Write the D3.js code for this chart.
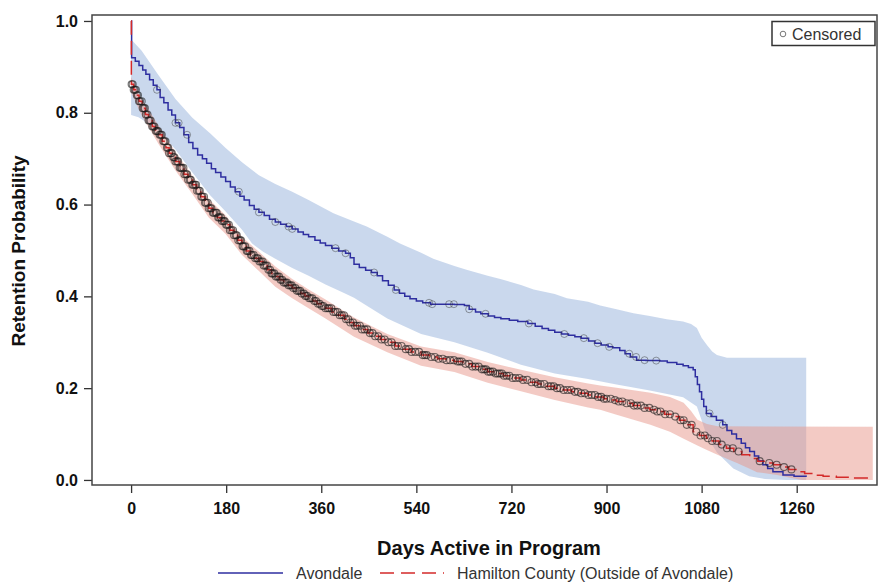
<!DOCTYPE html>
<html>

<head>
    <meta charset="utf-8">
    <title>Retention Probability - Kaplan-Meier</title>
    <style>
        body { margin: 0; background: #ffffff; }
        text { font-family: "Liberation Sans", Arial, sans-serif; }
    </style>
</head>

<body>
    <svg id="meuGrafico" width="881" height="582"></svg>

    <script src="https://d3js.org/d3.v7.min.js"></script>
    <script>
        // ---- dados ----
        var xTicks = [0, 180, 360, 540, 720, 900, 1080, 1260];
        var yTicks = [0.0, 0.2, 0.4, 0.6, 0.8, 1.0];
        var seriesNames = ["Avondale", "Hamilton County (Outside of Avondale)"];

        // Avondale: curva de sobrevivencia (dia, probabilidade)
        var avondaleCurve = [
            [0, 1.000], [1, 0.920], [8, 0.912], [15, 0.903], [22, 0.893], [28, 0.884], [35, 0.872], [42, 0.860],
            [49, 0.850], [55, 0.833], [62, 0.822], [70, 0.806], [77, 0.795], [84, 0.778], [92, 0.768], [100, 0.752],
            [109, 0.735], [117, 0.722], [126, 0.708], [135, 0.700], [143, 0.690], [152, 0.678], [160, 0.670],
            [170, 0.660], [179, 0.650], [188, 0.638], [197, 0.628], [206, 0.618], [214, 0.610], [224, 0.598],
            [233, 0.590], [242, 0.583], [252, 0.576], [262, 0.568], [273, 0.562], [283, 0.557], [294, 0.552],
            [305, 0.547], [316, 0.540], [326, 0.535], [336, 0.530], [348, 0.522], [358, 0.516], [368, 0.511],
            [380, 0.505], [393, 0.499], [406, 0.494], [415, 0.484], [422, 0.470], [432, 0.463], [444, 0.457],
            [455, 0.452], [466, 0.445], [476, 0.434], [487, 0.424], [498, 0.414], [508, 0.407], [518, 0.400],
            [528, 0.395], [540, 0.390], [552, 0.386], [567, 0.383], [600, 0.383], [612, 0.382], [631, 0.380],
            [640, 0.372], [652, 0.366], [662, 0.362], [676, 0.357], [688, 0.354], [700, 0.351], [716, 0.348],
            [732, 0.345], [751, 0.341], [765, 0.335], [778, 0.330], [790, 0.326], [802, 0.322], [815, 0.318],
            [828, 0.315], [840, 0.312], [852, 0.309], [866, 0.303], [878, 0.298], [890, 0.294], [903, 0.290],
            [912, 0.288], [925, 0.282], [935, 0.275], [945, 0.268], [957, 0.261], [975, 0.260], [1001, 0.259],
            [1015, 0.256], [1033, 0.252], [1045, 0.249], [1055, 0.245], [1064, 0.240], [1068, 0.225],
            [1072, 0.208], [1076, 0.192], [1080, 0.176], [1084, 0.160], [1089, 0.145], [1098, 0.138],
            [1108, 0.130], [1120, 0.120], [1128, 0.108], [1137, 0.100], [1146, 0.090], [1155, 0.080],
            [1163, 0.070], [1171, 0.062], [1180, 0.052], [1188, 0.042], [1196, 0.033], [1205, 0.025],
            [1215, 0.018], [1234, 0.011], [1255, 0.008], [1278, 0.007]
        ];
        var avondaleUpper = [
            [0, 0.960], [20, 0.935], [52, 0.882], [84, 0.830], [116, 0.789], [150, 0.755], [179, 0.723],
            [210, 0.692], [242, 0.664], [273, 0.645], [305, 0.628], [336, 0.610], [383, 0.581], [422, 0.563],
            [446, 0.552], [485, 0.530], [509, 0.515], [549, 0.495], [572, 0.482], [612, 0.466], [635, 0.458],
            [675, 0.445], [699, 0.438], [738, 0.425], [762, 0.415], [802, 0.405], [825, 0.396], [865, 0.388],
            [888, 0.380], [919, 0.372], [951, 0.363], [982, 0.357], [1014, 0.350], [1045, 0.345], [1060, 0.340],
            [1071, 0.331], [1080, 0.310], [1090, 0.294], [1100, 0.280], [1109, 0.272], [1128, 0.266], [1278, 0.266]
        ];
        var avondaleLower = [
            [0, 0.795], [14, 0.790], [28, 0.780], [52, 0.760], [84, 0.720], [116, 0.670], [150, 0.620],
            [179, 0.585], [210, 0.545], [229, 0.515], [250, 0.497], [273, 0.482], [305, 0.462], [336, 0.445],
            [368, 0.426], [400, 0.409], [422, 0.397], [450, 0.377], [485, 0.352], [549, 0.318], [612, 0.300],
            [675, 0.277], [738, 0.251], [802, 0.232], [865, 0.220], [919, 0.208], [982, 0.195], [1045, 0.180],
            [1071, 0.160], [1080, 0.130], [1090, 0.095], [1109, 0.060], [1140, 0.025], [1170, 0.008],
            [1200, 0.002], [1240, 0.000], [1278, 0.000]
        ];
        var avondaleCensored = [49, 84, 90, 106, 204, 242, 273, 298, 305, 387, 406, 460, 501, 564, 570, 602,
            611, 640, 671, 753, 820, 857, 883, 905, 943, 956, 972, 994, 1095, 1120];

        // Hamilton County (fora de Avondale)
        var hamiltonCurve = [
            [0, 1.000], [0.5, 0.862], [5, 0.850], [10, 0.838], [15, 0.825], [21, 0.810], [27, 0.796], [33, 0.783],
            [40, 0.770], [46, 0.760], [52, 0.752], [59, 0.738], [66, 0.724], [72, 0.712], [78, 0.703], [84, 0.694],
            [92, 0.680], [100, 0.666], [108, 0.654], [116, 0.643], [124, 0.630], [132, 0.617], [140, 0.604],
            [147, 0.592], [155, 0.582], [163, 0.572], [171, 0.564], [179, 0.556], [187, 0.544], [195, 0.533],
            [202, 0.522], [210, 0.509], [218, 0.499], [226, 0.490], [234, 0.483], [242, 0.476], [250, 0.467],
            [258, 0.458], [266, 0.450], [273, 0.443], [281, 0.436], [289, 0.430], [297, 0.424], [305, 0.418],
            [313, 0.412], [321, 0.406], [329, 0.401], [336, 0.396], [344, 0.390], [352, 0.384], [360, 0.379],
            [368, 0.374], [380, 0.366], [392, 0.359], [404, 0.350], [414, 0.343], [422, 0.336], [435, 0.328],
            [448, 0.320], [460, 0.313], [472, 0.306], [485, 0.300], [500, 0.292], [515, 0.285], [530, 0.279],
            [549, 0.272], [565, 0.268], [580, 0.264], [596, 0.261], [612, 0.258], [628, 0.253], [645, 0.247],
            [660, 0.241], [675, 0.236], [690, 0.232], [705, 0.227], [722, 0.222], [738, 0.218], [754, 0.213],
            [770, 0.209], [786, 0.204], [802, 0.200], [818, 0.196], [834, 0.192], [850, 0.189], [865, 0.185],
            [880, 0.181], [895, 0.177], [910, 0.174], [919, 0.171], [935, 0.167], [950, 0.162], [966, 0.157],
            [982, 0.153], [996, 0.149], [1010, 0.143], [1026, 0.138], [1038, 0.130], [1050, 0.120], [1064, 0.105],
            [1076, 0.097], [1089, 0.091], [1100, 0.085], [1113, 0.077], [1127, 0.069], [1141, 0.062],
            [1156, 0.055], [1171, 0.047], [1186, 0.041], [1200, 0.037], [1216, 0.033], [1230, 0.028],
            [1245, 0.023], [1260, 0.018], [1275, 0.014], [1290, 0.010], [1310, 0.008], [1335, 0.006],
            [1361, 0.004], [1404, 0.004]
        ];
        var hamiltonUpper = [
            [0, 0.878], [21, 0.828], [52, 0.772], [84, 0.714], [116, 0.663], [147, 0.612], [179, 0.576],
            [210, 0.530], [242, 0.497], [273, 0.465], [305, 0.438], [336, 0.415], [368, 0.393], [422, 0.354],
            [485, 0.318], [549, 0.291], [612, 0.278], [675, 0.257], [738, 0.240], [802, 0.224], [865, 0.210],
            [888, 0.206], [919, 0.201], [983, 0.190], [1020, 0.181], [1046, 0.168], [1060, 0.150], [1072, 0.131],
            [1090, 0.122], [1110, 0.117], [1404, 0.116]
        ];
        var hamiltonLower = [
            [0, 0.845], [21, 0.792], [52, 0.732], [84, 0.674], [116, 0.623], [147, 0.572], [179, 0.536],
            [210, 0.490], [242, 0.455], [273, 0.421], [305, 0.396], [336, 0.374], [368, 0.352], [422, 0.312],
            [485, 0.278], [549, 0.249], [612, 0.235], [675, 0.212], [738, 0.193], [802, 0.174], [865, 0.158],
            [888, 0.153], [919, 0.142], [983, 0.120], [1020, 0.105], [1046, 0.090], [1072, 0.075], [1090, 0.065],
            [1110, 0.055], [1130, 0.045], [1147, 0.037], [1170, 0.025], [1185, 0.017], [1223, 0.011],
            [1250, 0.004], [1270, 0.000], [1404, 0.000]
        ];
        var hamiltonCensored = [1, 3, 5, 7, 9, 11, 13, 15, 17, 20, 22, 24, 26, 28, 31, 33, 35, 37, 40, 42, 44,
            47, 49, 51, 54, 56, 58, 61, 63, 65, 68, 70, 72, 75, 77, 80, 82, 84, 87, 89, 92, 94, 96, 99, 101, 104,
            106, 108, 111, 113, 116, 118, 121, 123, 125, 128, 130, 133, 135, 138, 140, 142, 145, 147, 150, 152,
            155, 157, 160, 162, 165, 167, 170, 172, 175, 177, 180, 182, 185, 187, 190, 193, 195, 198, 200, 203,
            206, 208, 211, 213, 216, 219, 221, 224, 227, 229, 232, 235, 238, 240, 243, 246, 249, 251, 254, 257,
            260, 263, 266, 268, 271, 274, 277, 280, 283, 286, 289, 292, 295, 298, 301, 304, 307, 311, 314, 317,
            320, 323, 327, 330, 333, 337, 340, 343, 347, 350, 354, 357, 361, 364, 368, 372, 375, 379, 383, 387,
            391, 395, 399, 403, 407, 411, 415, 420, 424, 428, 433, 437, 442, 447, 452, 457, 462, 468, 474, 480,
            487, 493, 500, 505, 512, 520, 526, 531, 538, 545, 552, 556, 560, 568, 575, 582, 590, 597, 604, 611,
            618, 622, 626, 633, 640, 646, 652, 658, 664, 668, 672, 676, 680, 685, 690, 694, 698, 702, 706, 711,
            716, 722, 728, 735, 742, 750, 758, 766, 770, 775, 782, 790, 795, 800, 806, 812, 819, 826, 833, 840,
            846, 852, 859, 866, 872, 878, 884, 890, 895, 900, 908, 916, 923, 930, 938, 946, 952, 958, 965, 972,
            981, 990, 996, 1002, 1011, 1020, 1030, 1040, 1046, 1052, 1061, 1070, 1078, 1086, 1092, 1100, 1109,
            1118, 1128, 1139, 1150, 1190, 1208, 1222, 1236, 1250];

        // ---- desenho ----
        var svg = d3.select("#meuGrafico");

        // limites da area do grafico
        var plotLeft = 92, plotRight = 877, plotTop = 15, plotBottom = 485;

        var x = d3.scaleLinear().domain([-74, 1412]).range([plotLeft, plotRight]);
        var y = d3.scaleLinear().domain([-0.011, 1.013]).range([plotBottom, plotTop]);

        var bisectDay = d3.bisector(function (d) { return d[0]; }).right;

        // valor em degrau de uma serie no dia t
        function valueAt(serie, t) {
            return serie[Math.max(0, bisectDay(serie, t) - 1)][1];
        }

        // bandas de confianca: borda superior e depois a inferior de volta
        var edge = d3.line()
            .x(function (d) { return x(d[0]); })
            .y(function (d) { return y(d[1]); });

        function bandPath(upper, lower) {
            return edge(upper.concat(lower.slice().reverse())) + "Z";
        }

        svg.append("path")
            .attr("d", bandPath(avondaleUpper, avondaleLower))
            .attr("fill", "#b3c7e6")
            .attr("fill-opacity", 0.7);

        svg.append("path")
            .attr("d", bandPath(hamiltonUpper, hamiltonLower))
            .attr("fill", "#e8968a")
            .attr("fill-opacity", 0.5);

        // curvas
        var line = d3.line()
            .curve(d3.curveStepAfter)
            .x(function (d) { return x(d[0]); })
            .y(function (d) { return y(d[1]); });

        svg.append("path")
            .datum(avondaleCurve)
            .attr("d", line)
            .attr("fill", "none")
            .attr("stroke", "#2e2ea0")
            .attr("stroke-width", 1.5);

        svg.append("path")
            .datum(hamiltonCurve)
            .attr("d", line)
            .attr("fill", "none")
            .attr("stroke", "#d42a2a")
            .attr("stroke-width", 1.5)
            .attr("stroke-dasharray", "14,6");

        // marcas de censura
        svg.append("g")
            .selectAll("circle")
            .data(hamiltonCensored)
            .enter()
            .append("circle")
            .attr("cx", function (d) { return x(d); })
            .attr("cy", function (d) { return y(valueAt(hamiltonCurve, d)); })
            .attr("r", 3.5)
            .attr("fill", "none")
            .attr("stroke", "#1a1a1a")
            .attr("stroke-opacity", 0.6)
            .attr("stroke-width", 1.1);

        svg.append("g")
            .selectAll("circle")
            .data(avondaleCensored)
            .enter()
            .append("circle")
            .attr("cx", function (d) { return x(d); })
            .attr("cy", function (d) { return y(valueAt(avondaleCurve, d)); })
            .attr("r", 3.5)
            .attr("fill", "none")
            .attr("stroke", "#333333")
            .attr("stroke-opacity", 0.45)
            .attr("stroke-width", 1);

        // eixos
        var xAxis = svg.append("g")
            .attr("transform", "translate(0," + plotBottom + ")")
            .call(d3.axisBottom(x).tickValues(xTicks).tickSize(8).tickPadding(10).tickFormat(d3.format("d")));

        var yAxis = svg.append("g")
            .attr("transform", "translate(" + plotLeft + ",0)")
            .call(d3.axisLeft(y).tickValues(yTicks).tickSize(8).tickPadding(6).tickFormat(d3.format(".1f")));

        [xAxis, yAxis].forEach(function (a) {
            a.select(".domain").remove();
            a.selectAll(".tick line").attr("stroke", "#333").attr("stroke-width", 1.3);
            a.selectAll(".tick text")
                .attr("fill", "#111")
                .style("font-family", "'Liberation Sans', Arial, sans-serif")
                .style("font-size", "16px")
                .style("font-weight", "bold");
        });

        // moldura
        svg.append("rect")
            .attr("x", plotLeft)
            .attr("y", plotTop)
            .attr("width", plotRight - plotLeft)
            .attr("height", plotBottom - plotTop)
            .attr("fill", "none")
            .attr("stroke", "#444")
            .attr("stroke-width", 1.5);

        // titulos
        svg.append("text")
            .attr("x", 489)
            .attr("y", 555)
            .attr("text-anchor", "middle")
            .style("font-size", "20px")
            .style("font-weight", "bold")
            .attr("fill", "#111")
            .text("Days Active in Program");

        svg.append("text")
            .attr("transform", "translate(25,251) rotate(-90)")
            .attr("text-anchor", "middle")
            .style("font-size", "19px")
            .style("font-weight", "bold")
            .attr("fill", "#111")
            .text("Retention Probability");

        // legenda "Censored"
        var cens = svg.append("g");
        cens.append("rect")
            .attr("x", 772).attr("y", 21.5)
            .attr("width", 103).attr("height", 24)
            .attr("fill", "#fff")
            .attr("stroke", "#333")
            .attr("stroke-width", 1.5);
        cens.append("circle")
            .attr("cx", 783).attr("cy", 34).attr("r", 2.8)
            .attr("fill", "none").attr("stroke", "#777").attr("stroke-width", 1);
        cens.append("text")
            .attr("x", 792).attr("y", 40)
            .style("font-size", "16px")
            .attr("fill", "#333")
            .text("Censored");

        // legenda inferior
        var leg = svg.append("g");
        leg.append("line")
            .attr("x1", 218).attr("x2", 283).attr("y1", 573).attr("y2", 573)
            .attr("stroke", "#2e2ea0").attr("stroke-width", 1.5);
        leg.append("text")
            .attr("x", 296).attr("y", 579)
            .style("font-size", "16px").attr("fill", "#333")
            .text(seriesNames[0]);
        leg.append("line")
            .attr("x1", 380).attr("x2", 444).attr("y1", 573).attr("y2", 573)
            .attr("stroke", "#d42a2a").attr("stroke-width", 1.5)
            .attr("stroke-dasharray", "14,7");
        leg.append("text")
            .attr("x", 457).attr("y", 579)
            .style("font-size", "16px").attr("fill", "#333")
            .text(seriesNames[1]);
    </script>
</body>

</html>
